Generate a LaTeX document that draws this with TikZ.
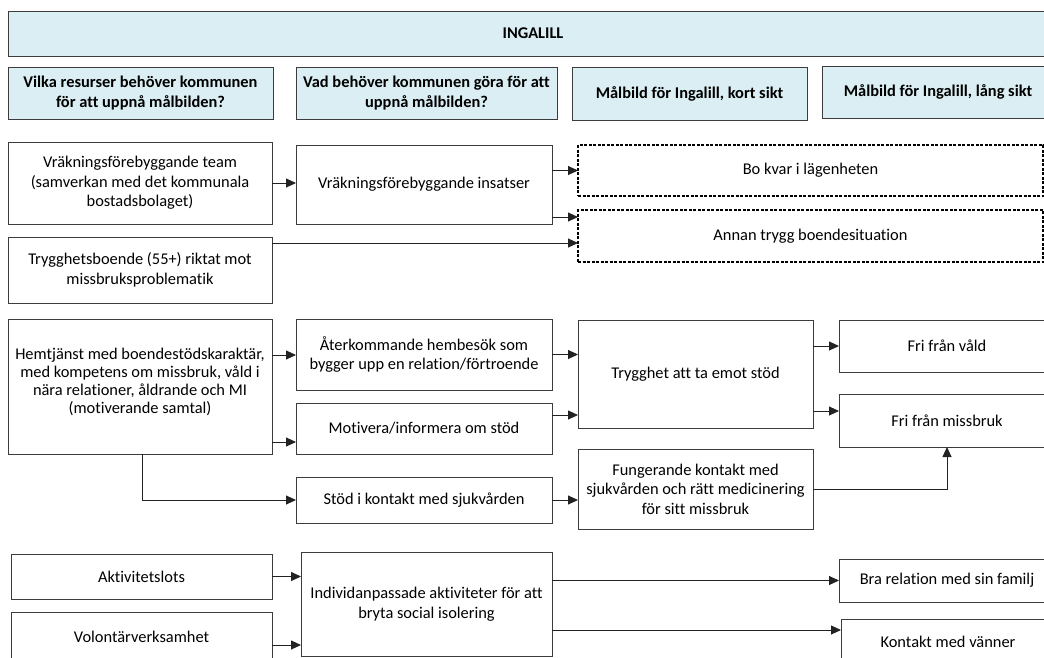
\documentclass[tikz,border=0pt]{standalone}
\usepackage{fontspec}
\setmainfont{Carlito}[Ligatures={NoCommon}]
\usetikzlibrary{arrows.meta,calc}
\definecolor{hdrblue}{HTML}{DAEEF3}
\definecolor{bordercol}{HTML}{3C3C3C}
\definecolor{linecol}{HTML}{222222}
\tikzset{
  box/.style={draw=bordercol, line width=1pt, align=center, inner sep=0pt, outer sep=0pt,
    font=\fontsize{16.4}{19.5}\selectfont},
  hdr/.style={box, fill=hdrblue, font=\fontsize{16.4}{19.5}\selectfont\bfseries},
  dbox/.style={box, draw=black, line width=1.1pt, dash pattern=on 3pt off 1.5pt},
  conn/.style={draw=linecol, line width=0.9pt, -{Triangle[length=10pt,width=9pt]}},
}
\begin{document}
\begin{tikzpicture}[x=1pt,y=-1pt]
\useasboundingbox (0,0) rectangle (1044,657);
\clip (0,0) rectangle (1044,657);
% header row
\node[hdr, minimum width=1050pt, minimum height=45pt] (title) at (533,33.5) {INGALILL};
\node[hdr, minimum width=265pt, minimum height=52pt] (h1) at (140.5,93) {Vilka resurser behöver kommunen\\för att uppnå målbilden?};
\node[hdr, minimum width=261pt, minimum height=52pt] (h2) at (426.5,93) {Vad behöver kommunen göra för att\\uppnå målbilden?};
\node[hdr, minimum width=235pt, minimum height=53pt] (h3) at (689.5,93.5) {Målbild för Ingalill, kort sikt};
\node[hdr, minimum width=232pt, minimum height=52pt] (h4) at (938,92) {Målbild för Ingalill, lång sikt};
% housing block
\node[box, minimum width=264pt, minimum height=82pt] (vt) at (140,183) {Vräkningsförebyggande team\\(samverkan med det kommunala\\bostadsbolaget)};
\node[box, minimum width=256pt, minimum height=79pt] (vi) at (424,184.5) {Vräkningsförebyggande insatser};
\node[dbox, minimum width=465pt, minimum height=51pt] (bo) at (810.5,170.5) {Bo kvar i lägenheten};
\node[dbox, minimum width=465pt, minimum height=52pt] (annan) at (810.5,236) {Annan trygg boendesituation};
\node[box, minimum width=264pt, minimum height=66pt] (tb) at (140,270) {Trygghetsboende (55+) riktat mot\\missbruksproblematik};
% support block
\node[box, minimum width=264pt, minimum height=135pt, font=\fontsize{16.4}{18}\selectfont] (hem) at (140,386.5) {\\[-15pt]Hemtjänst med boendestödskaraktär,\\med kompetens om missbruk, våld i\\nära relationer, åldrande och MI\\(motiverande samtal)};
\node[box, minimum width=256pt, minimum height=71pt] (ater) at (424,354.5) {Återkommande hembesök som\\bygger upp en relation/förtroende};
\node[box, minimum width=256pt, minimum height=51pt] (mot) at (424,428.5) {Motivera/informera om stöd};
\node[box, minimum width=256pt, minimum height=46pt] (stod) at (424,500) {Stöd i kontakt med sjukvården};
\node[box, minimum width=235pt, minimum height=108pt] (tryg) at (695.5,374) {Trygghet att ta emot stöd};
\node[box, minimum width=235pt, minimum height=80pt] (fung) at (695.5,489) {Fungerande kontakt med\\sjukvården och rätt medicinering\\för sitt missbruk};
\node[box, minimum width=216pt, minimum height=52pt] (vald) at (947,346) {Fri från våld};
\node[box, minimum width=216pt, minimum height=53pt] (missb) at (947,420.5) {Fri från missbruk};
% activity block
\node[box, minimum width=261pt, minimum height=45pt] (akt) at (141.5,576.5) {Aktivitetslots};
\node[box, minimum width=261pt, minimum height=50pt] (vol) at (141.5,637) {Volontärverksamhet};
\node[box, minimum width=251pt, minimum height=104pt] (ind) at (426.5,604) {Individanpassade aktiviteter för att\\bryta social isolering};
\node[box, minimum width=216pt, minimum height=43pt] (bra) at (947,580.5) {Bra relation med sin familj};
\node[box, minimum width=214pt, minimum height=46pt] (kont) at (948,642) {Kontakt med vänner};
% helper coordinates
\coordinate (viA) at ([yshift=7pt]vi.south east);
\coordinate (tbA) at ([yshift=-6pt]tb.north east);
\coordinate (hemA) at ([yshift=-36pt]hem.north east);
\coordinate (hemB) at ([yshift=12pt]hem.south east);
\coordinate (motA) at ([yshift=-12pt]mot.north east);
\coordinate (trA) at ([yshift=17pt]tryg.south east);
\coordinate (volA) at ([yshift=-33pt]vol.north east);
\coordinate (indB) at ([yshift=-78pt]ind.north east);
% connectors
\draw[conn] (vt.east) -- (vt.east -| vi.west);
\draw[conn] (vi.east |- bo.west) -- (bo.west);
\draw[conn] (viA) -- (viA -| annan.west);
\draw[conn] (tbA) -- (tbA -| annan.west);
\draw[conn] (hemA) -- (hemA -| ater.west);
\draw[conn] (hemB) -- (hemB -| mot.west);
\draw[conn] ([xshift=2pt]hem.south) |- (stod.west);
\draw[conn] (ater.east) -- (ater.east -| tryg.west);
\draw[conn] (motA) -- (motA -| tryg.west);
\draw[conn] (vald.west -| tryg.east) -- (vald.west);
\draw[conn] (trA) -- (trA -| missb.west);
\draw[conn] (stod.east) -- (stod.east -| fung.west);
\draw[conn] (fung.east) -| (missb.south);
\draw[conn] (akt.east) -- (akt.east -| ind.west);
\draw[conn] (volA) -- (volA -| ind.west);
\draw[conn] (bra.west -| ind.east) -- (bra.west);
\draw[conn] (indB) -- (indB -| kont.west);
\end{tikzpicture}
\end{document}
